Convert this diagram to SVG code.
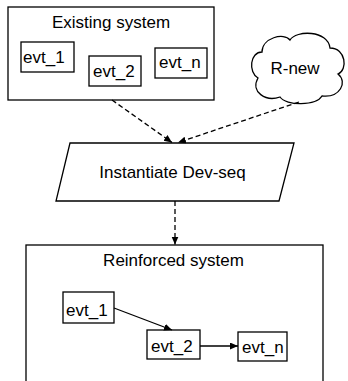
<svg xmlns="http://www.w3.org/2000/svg" width="348" height="381" viewBox="0 0 348 381">
<style>
.s{fill:#fff;stroke:#000;stroke-width:1.3}
.t{font-family:"Liberation Sans",Arial,sans-serif;font-size:17px;fill:#000}
.m{text-anchor:middle}
.c{fill:none;stroke:#000;stroke-width:1.3}
.d{stroke-dasharray:5 3}
</style>
<defs>
<marker id="ah" markerUnits="userSpaceOnUse" markerWidth="9" markerHeight="8" refX="8" refY="3.5" orient="auto">
<path d="M0,0 L8,3.5 L0,7 z" fill="#000"/>
</marker>
</defs>
<rect width="348" height="381" fill="#fff"/>
<g id="existing-system">
<rect class="s" x="8" y="7" width="206" height="93"/>
<text class="t m" x="111" y="28">Existing system</text>
</g>
<g id="ex-evt1">
<rect class="s" x="21" y="42" width="53" height="30"/>
<text class="t" x="23" y="63">evt_1</text>
</g>
<g id="ex-evt2">
<rect class="s" x="89" y="56" width="52" height="30"/>
<text class="t" x="93" y="77">evt_2</text>
</g>
<g id="ex-evtn">
<rect class="s" x="155" y="48" width="52" height="30"/>
<text class="t" x="159" y="68">evt_n</text>
</g>
<g id="r-new">
<path class="s" d="M262,52 C262,38 284,32 290,40 C296,30 328,30 330,48 C346,48 348,70 338,74 C348,82 340,98 322,96 C316,106 286,106 280,97 C266,102 250,92 258,78 C248,72 250,52 262,52 Z"/>
<text class="t m" x="295" y="74">R-new</text>
</g>
<g id="instantiate">
<polygon class="s" points="70,143 294,143 279,201 56,201"/>
<text class="t m" x="172.5" y="178">Instantiate Dev-seq</text>
</g>
<g id="reinforced-system">
<rect class="s" x="26" y="245" width="297" height="150"/>
<text class="t m" x="173.5" y="266">Reinforced system</text>
</g>
<g id="re-evt1">
<rect class="s" x="63" y="292" width="51" height="31"/>
<text class="t" x="66" y="316">evt_1</text>
</g>
<g id="re-evt2">
<rect class="s" x="147" y="330" width="53" height="29"/>
<text class="t" x="151" y="352">evt_2</text>
</g>
<g id="re-evtn">
<rect class="s" x="238" y="332" width="49" height="29"/>
<text class="t" x="242" y="353">evt_n</text>
</g>
<g id="connectors">
<line class="c d" x1="112" y1="100" x2="172" y2="142.5" marker-end="url(#ah)"/>
<line class="c d" x1="299" y1="102" x2="178" y2="142.5" marker-end="url(#ah)"/>
<line class="c d" x1="175" y1="201" x2="175" y2="244.5" marker-end="url(#ah)"/>
<line class="c" x1="114" y1="308" x2="172" y2="330" marker-end="url(#ah)"/>
<line class="c" x1="200" y1="346" x2="238" y2="346" marker-end="url(#ah)"/>
</g>
</svg>
